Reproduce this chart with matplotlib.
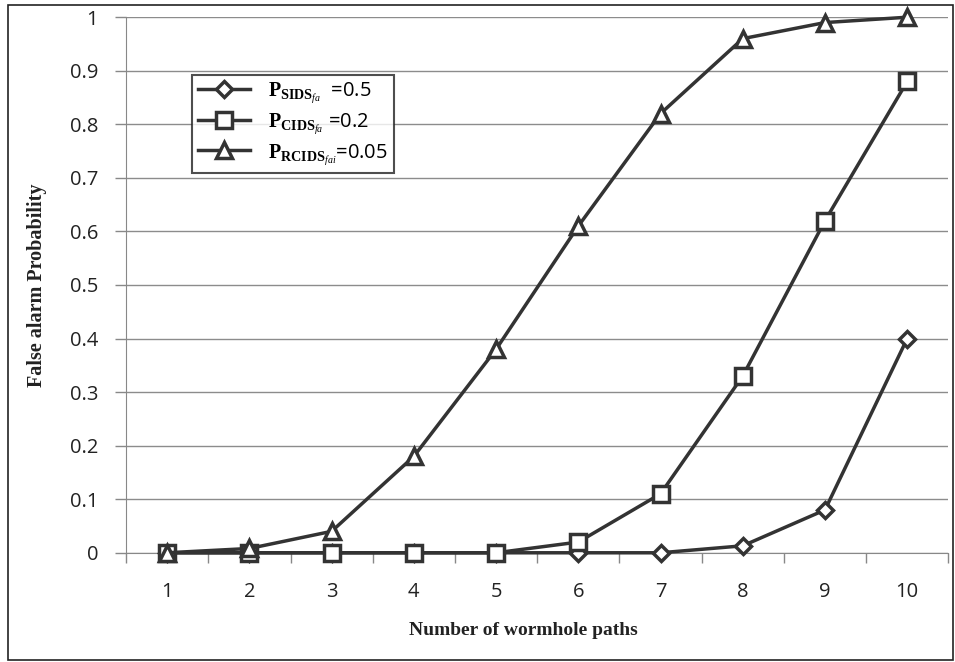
import numpy as np
import matplotlib.pyplot as plt
from matplotlib.patches import Rectangle

plt.rcParams['font.family'] = ['Open Sans', 'DejaVu Sans']
plt.rcParams['mathtext.fontset'] = 'custom'
plt.rcParams['mathtext.rm'] = 'Liberation Serif'
plt.rcParams['mathtext.it'] = 'Liberation Serif:italic'
plt.rcParams['mathtext.bf'] = 'Liberation Serif:bold'

# number of wormhole paths
paths = [1, 2, 3, 4, 5, 6, 7, 8, 9, 10]
# false alarm probabilities per scheme
p_sids = [0, 0, 0, 0, 0, 0, 0, 0.013, 0.08, 0.40]
p_cids = [0, 0, 0, 0, 0, 0.02, 0.11, 0.33, 0.62, 0.88]
p_rcids = [0, 0.008, 0.04, 0.18, 0.38, 0.61, 0.82, 0.96, 0.99, 1.0]

labels = [r'$\mathbf{P}_{\mathbf{SIDS}_{\mathit{fa}}}$  =0.5',
          r'$\mathbf{P}_{\mathbf{CIDS}_{\mathit{fa}}}$ =0.2',
          r'$\mathbf{P}_{\mathbf{RCIDS}_{\mathit{fai}}}$=0.05']

fig = plt.figure(figsize=(9.55, 6.62), dpi=100)
ax = fig.add_axes([0.132, 0.165, 0.861, 0.809])

line_color = '#333333'
style = dict(color=line_color, linewidth=2.5, markersize=11,
             markerfacecolor='white', markeredgecolor=line_color,
             markeredgewidth=2.5, clip_on=False)
ax.plot(paths, p_sids, marker='D', label=labels[0], zorder=3, **dict(style, markersize=8.5))
ax.plot(paths, p_cids, marker='s', label=labels[1], zorder=4, **style)
ax.plot(paths, p_rcids, marker='^', label=labels[2], zorder=5, **style)

ax.set_xlim(0.5, 10.5)
ax.set_ylim(0, 1)
ax.set_yticks(np.arange(0, 1.01, 0.1))
ax.set_yticklabels(['0', '0.1', '0.2', '0.3', '0.4', '0.5', '0.6', '0.7', '0.8', '0.9', '1'])
ax.set_xticks(paths)
ax.set_xticks(np.arange(0.5, 10.6, 1), minor=True)
ax.tick_params(axis='x', which='major', length=0, pad=21, labelsize=14.5, colors='#222222')
ax.tick_params(axis='x', which='minor', length=7, width=1, color='#888888', direction='out')
ax.tick_params(axis='y', length=8, width=1, color='#888888', pad=12, labelsize=14.5, colors='#222222')
ax.grid(axis='y', color='#8c8c8c', linewidth=1)
ax.set_axisbelow(True)
for s in ['top', 'right']:
    ax.spines[s].set_visible(False)
ax.spines['left'].set_color('#888888')
ax.spines['bottom'].set_color('#888888')

ax.set_xlabel('Number of wormhole paths', family='Liberation Serif',
              fontweight='bold', fontsize=14, color='#222222')
ax.xaxis.set_label_coords(0.483, -0.13)
ax.set_ylabel('False alarm Probability', family='Liberation Serif',
              fontweight='bold', fontsize=14.5, color='#222222')
ax.yaxis.set_label_coords(-0.096, 0.5)

leg = ax.legend(loc='upper left', bbox_to_anchor=(0.08, 0.893), fontsize=14.5,
                frameon=True, fancybox=False, edgecolor='#222222',
                handlelength=2.6, borderpad=0.3, labelspacing=0.3,
                handletextpad=0.9, borderaxespad=0)
leg.get_frame().set_linewidth(1.5)

# outer border
fig.patches.append(Rectangle((0.008, 0.003), 0.99, 0.99, transform=fig.transFigure,
                             fill=False, edgecolor='#222222', linewidth=1.2))

fig.savefig('out.png', dpi=100)
